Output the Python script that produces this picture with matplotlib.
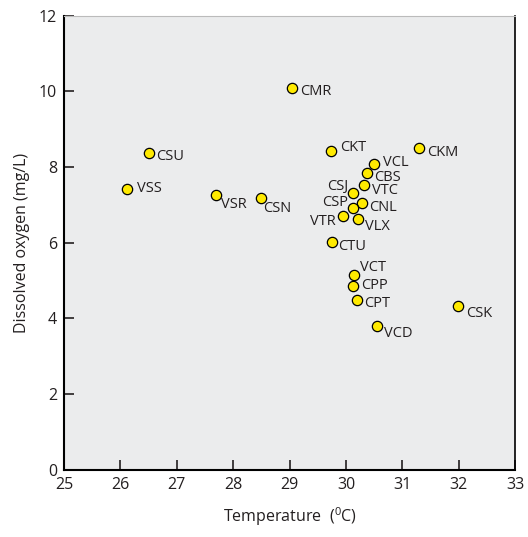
import matplotlib.pyplot as plt

plt.rcParams['font.family'] = ['Open Sans', 'DejaVu Sans']
plt.rcParams['mathtext.fontset'] = 'custom'
plt.rcParams['mathtext.rm'] = 'Open Sans'

# site codes, temperature (C) and dissolved oxygen (mg/L)
sites = ['CMR', 'CKT', 'CKM', 'CSU', 'VSS', 'VSR', 'CSN', 'VCL', 'CBS', 'VTC',
         'CSJ', 'CNL', 'CSP', 'VTR', 'VLX', 'CTU', 'VCT', 'CPP', 'CPT', 'VCD', 'CSK']
temp = [29.05, 29.74, 31.29, 26.50, 26.12, 27.69, 28.49, 30.49, 30.38, 30.31,
        30.12, 30.29, 30.12, 29.94, 30.22, 29.75, 30.14, 30.13, 30.20, 30.54, 31.98]
oxygen = [10.10, 8.43, 8.51, 8.38, 7.43, 7.27, 7.19, 8.09, 7.84, 7.53,
          7.32, 7.06, 6.92, 6.71, 6.63, 6.03, 5.14, 4.87, 4.49, 3.81, 4.33]

# label offsets in pixels (dx, dy down), negative dx = label on the left
offsets = {'CMR': (8, 4), 'CKT': (9, -3), 'CKM': (8, 5), 'CSU': (8, 4),
           'VSS': (10, 0), 'VSR': (5, 10), 'CSN': (2, 11), 'VCL': (9, -1),
           'CBS': (7, 4), 'VTC': (8, 6), 'CSJ': (-4, -6), 'CNL': (7, 5),
           'CSP': (-5, -5), 'VTR': (-7, 6), 'VLX': (7, 8), 'CTU': (6, 5),
           'VCT': (6, -8), 'CPP': (8, 0), 'CPT': (7, 4), 'VCD': (7, 8), 'CSK': (8, 8)}

fig = plt.figure(figsize=(5.28, 5.37), dpi=100)
ax = fig.add_axes([0.121, 0.125, 0.855, 0.846])
ax.set_facecolor('#ebeced')

ax.scatter(temp, oxygen, s=55, color='#ffea00', edgecolor='black', linewidth=0.9, zorder=3)
for s, x, y in zip(sites, temp, oxygen):
    dx, dy = offsets[s]
    ax.annotate(s, (x, y), xytext=(dx * 0.72, -dy * 0.72), textcoords='offset points',
                ha='left' if dx > 0 else 'right', va='center', fontsize=10.5, color='#231f20')

ax.set_xlim(25, 33)
ax.set_ylim(0, 12)
ax.set_xticks(range(25, 34))
ax.set_yticks(range(0, 13, 2))
ax.tick_params(direction='in', length=7, width=1.2, labelsize=11.5, colors='#231f20', pad=5)
ax.set_xlabel(r'Temperature  ($^{\mathrm{0}}$C)', fontsize=11.5, labelpad=9, color='#231f20')
ax.set_ylabel('Dissolved oxygen (mg/L)', fontsize=11.5, labelpad=6, color='#231f20')

ax.spines['top'].set_color('#bbbbbb')
ax.spines['left'].set_linewidth(1.5)
ax.spines['bottom'].set_linewidth(1.5)
ax.spines['right'].set_linewidth(1.2)

fig.savefig('out.png', dpi=100)
